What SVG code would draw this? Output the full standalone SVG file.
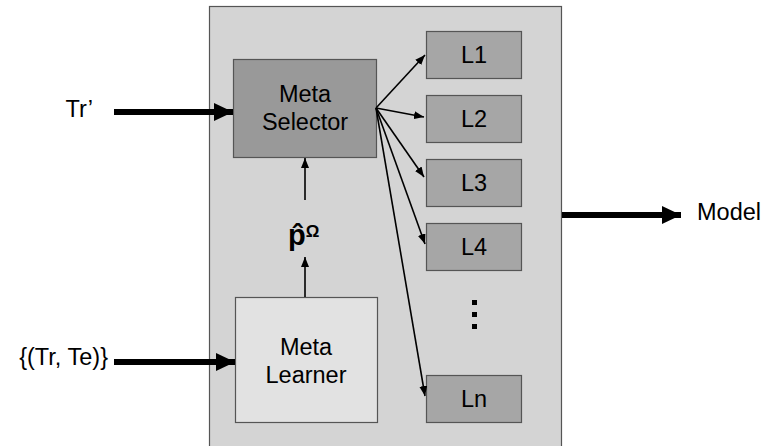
<svg xmlns="http://www.w3.org/2000/svg" width="763" height="446" viewBox="0 0 763 446">
<style>
text{font-family:"Liberation Sans",Arial,sans-serif;fill:#000}
.lbl{font-size:23.5px}
.box{stroke:#555;stroke-width:1.2}
.thin{stroke:#000;stroke-width:1.6;fill:none}
.thick{stroke:#000;stroke-width:6;fill:none}
</style>
<defs>
<marker id="ah" viewBox="0 0 10 8" refX="10" refY="4" markerWidth="10" markerHeight="8" markerUnits="userSpaceOnUse" orient="auto">
<path d="M0,0 L10,4 L0,8 z" fill="#000"/>
</marker>
<marker id="ahb" viewBox="0 0 19 18" refX="19" refY="9" markerWidth="19" markerHeight="18" markerUnits="userSpaceOnUse" orient="auto">
<path d="M0,0 L19,9 L0,18 z" fill="#000"/>
</marker>
</defs>
<rect width="763" height="446" fill="#fff"/>
<g id="container"><rect class="box" x="209.5" y="6.5" width="352" height="445" fill="#d4d4d4"/></g>
<g id="meta-selector"><rect class="box" x="233.5" y="59.5" width="143" height="98" fill="#999"/>
<text class="lbl" x="305" y="102" text-anchor="middle">Meta</text>
<text class="lbl" x="305" y="130" text-anchor="middle">Selector</text></g>
<g id="meta-learner"><rect class="box" x="235.5" y="297.5" width="142" height="125" fill="#e2e2e2"/>
<text class="lbl" x="306" y="355" text-anchor="middle">Meta</text>
<text class="lbl" x="306" y="383" text-anchor="middle">Learner</text></g>
<g id="L1"><rect class="box" x="426.5" y="31.5" width="95" height="47" fill="#a6a6a6"/><text class="lbl" x="474" y="63" text-anchor="middle">L1</text></g>
<g id="L2"><rect class="box" x="426.5" y="95.5" width="95" height="47" fill="#a6a6a6"/><text class="lbl" x="474" y="127" text-anchor="middle">L2</text></g>
<g id="L3"><rect class="box" x="426.5" y="159.5" width="95" height="47" fill="#a6a6a6"/><text class="lbl" x="474" y="191" text-anchor="middle">L3</text></g>
<g id="L4"><rect class="box" x="426.5" y="223.5" width="95" height="47" fill="#a6a6a6"/><text class="lbl" x="474" y="255" text-anchor="middle">L4</text></g>
<g id="Ln"><rect class="box" x="426.5" y="375.5" width="95" height="47" fill="#a6a6a6"/><text class="lbl" x="474" y="407" text-anchor="middle">Ln</text></g>
<g id="dots" fill="#000"><rect x="472" y="300" width="5" height="5"/><rect x="472" y="312" width="5" height="5"/><rect x="472" y="324" width="5" height="5"/></g>
<g id="inputs">
<text class="lbl" x="93" y="117" text-anchor="end">Tr’</text>
<text class="lbl" x="108" y="365" text-anchor="end">{(Tr, Te)}</text>
<text class="lbl" x="697" y="220">Model</text>
<text x="288" y="245" font-size="29" font-weight="bold">p̂<tspan font-size="17" dy="-8">Ω</tspan></text>
</g>
<g id="connectors">
<line class="thick" x1="114" y1="112" x2="233" y2="112" marker-end="url(#ahb)"/>
<line class="thick" x1="114" y1="362" x2="235" y2="362" marker-end="url(#ahb)"/>
<line class="thick" x1="562" y1="215" x2="681" y2="215" marker-end="url(#ahb)"/>
<line class="thin" x1="305" y1="297" x2="305" y2="257" marker-end="url(#ah)"/>
<line class="thin" x1="305" y1="200" x2="305" y2="158" marker-end="url(#ah)"/>
<line class="thin" x1="376" y1="108" x2="425" y2="55" marker-end="url(#ah)"/>
<line class="thin" x1="376" y1="108" x2="424" y2="117" marker-end="url(#ah)"/>
<line class="thin" x1="376" y1="108" x2="424" y2="177" marker-end="url(#ah)"/>
<line class="thin" x1="376" y1="108" x2="425" y2="244" marker-end="url(#ah)"/>
<line class="thin" x1="376" y1="108" x2="425" y2="396" marker-end="url(#ah)"/>
</g>
</svg>
